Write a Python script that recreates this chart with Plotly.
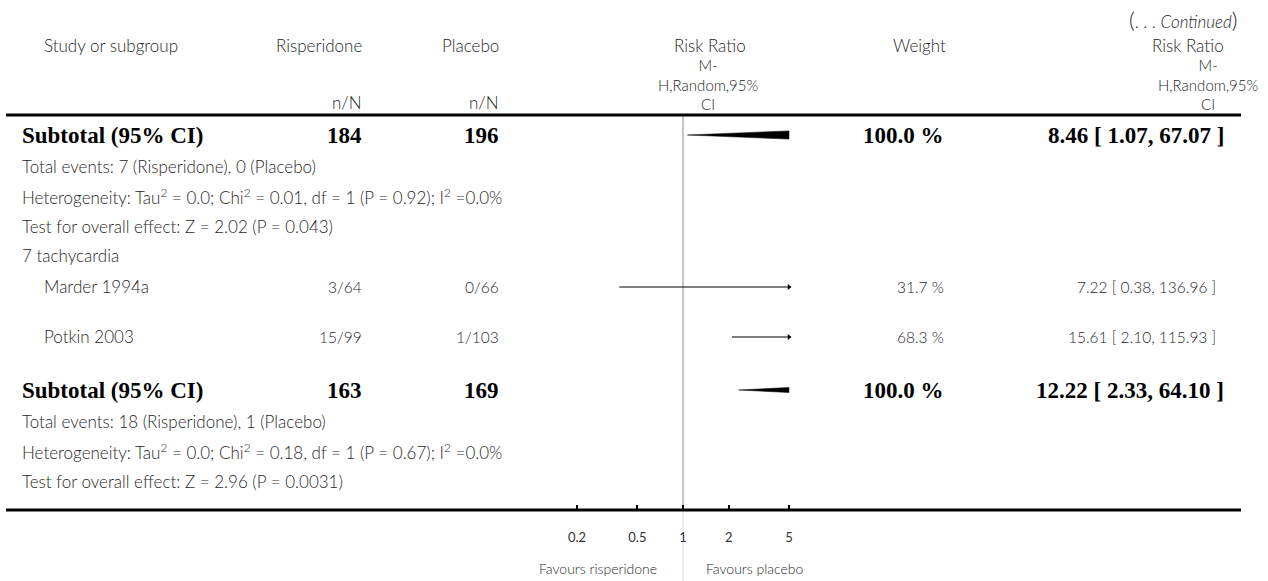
import math
import plotly.graph_objects as go

W, H = 1268, 581

# ---------------- data ----------------
study_names = ["Marder 1994a", "Potkin 2003"]
risp_events = [3, 15]
risp_total = [64, 99]
plac_events = [0, 1]
plac_total = [66, 103]
study_weight = [31.7, 68.3]
study_rr = [7.22, 15.61]
study_lo = [0.38, 2.10]
study_hi = [136.96, 115.93]

sub_risp_total = [184, 163]
sub_plac_total = [196, 169]
sub_weight = [100.0, 100.0]
sub_rr = [8.46, 12.22]
sub_lo = [1.07, 2.33]
sub_hi = [67.07, 64.10]

footer_prev = [
    "Total events: 7 (Risperidone), 0 (Placebo)",
    "Heterogeneity: Tau<sup>2</sup> = 0.0; Chi<sup>2</sup> = 0.01, df = 1 (P = 0.92); I<sup>2</sup> =0.0%",
    "Test for overall effect: Z = 2.02 (P = 0.043)",
]
group_label = "7 tachycardia"
footer_cur = [
    "Total events: 18 (Risperidone), 1 (Placebo)",
    "Heterogeneity: Tau<sup>2</sup> = 0.0; Chi<sup>2</sup> = 0.18, df = 1 (P = 0.67); I<sup>2</sup> =0.0%",
    "Test for overall effect: Z = 2.96 (P = 0.0031)",
]

tick_vals = [0.2, 0.5, 1, 2, 5]
tick_text = ["0.2", "0.5", "1", "2", "5"]
axis_min, axis_max = 0.2, 5
fav_left = "Favours risperidone"
fav_right = "Favours placebo"

# ---------------- layout constants (pixels) ----------------
LIGHT = "Lato, 'Open Sans', sans-serif"
SERIF = "'Liberation Serif', 'DejaVu Serif', serif"
GREY = "#1f1f1f"
FS = 17      # word text
NFS = 15.5   # numeric text
BFS = 23     # bold serif rows
LW = 300     # light weight

HEADER_LINE = 115
AXIS_LINE = 510
row_sub1, row_te1, row_het1, row_test1 = 135, 166, 196, 226
row_grp = 256
row_studies = [287, 337]
row_sub2, row_te2, row_het2, row_test2 = 390, 421, 451, 481

COL_NAME = 21
COL_STUDY = 43
COL_RISP = 363
COL_PLAC = 500
COL_W = 945
COL_RR = 1217
COL_RR_B = 1225

FOREST_X0, FOREST_X1 = 577, 789   # pixel span of 0.2 .. 5
PAD = 10                          # extra pixels so edge ticks are kept


def X(px):
    return px / W


def Y(py):
    return 1 - py / H


annotations = []


def txt(s, px, py, anchor="left", size=FS, family=LIGHT, color=GREY, weight=LW, align="left"):
    annotations.append(dict(
        text=s, x=X(px), y=Y(py), xref="paper", yref="paper",
        xanchor=anchor, yanchor="middle", showarrow=False, borderpad=0, align=align,
        font=dict(family=family, size=size, color=color, weight=weight),
    ))


def btxt(s, px, py, anchor="left"):
    txt(s, px, py, anchor, size=BFS, family=SERIF, color="black", weight=700)


# header
txt("<span style='font-size:22px'>(</span>. . . <i>Continued</i><span style='font-size:22px'>)</span>",
    1238, 19, "right", size=17)
txt("Study or subgroup", COL_STUDY, 45)
txt("Risperidone", COL_RISP, 45, "right")
txt("Placebo", COL_PLAC, 45, "right")
txt("n/N", COL_RISP, 103, "right")
txt("n/N", COL_PLAC, 103, "right")
txt("Risk Ratio", 710, 45, "center")
txt("M-<br>H,Random,95%<br>CI", 708, 84, "center", size=15, align="center")
txt("Weight", 947, 45, "right")
txt("Risk Ratio", 1225, 45, "right")
txt("M-<br>H,Random,95%<br>CI", 1208, 84, "center", size=15, align="center")


def fmt_ci(rr, lo, hi):
    return f"{rr:.2f} [ {lo:.2f}, {hi:.2f} ]"


# first subtotal block (continued from previous page)
btxt("Subtotal (95% CI)", COL_NAME, row_sub1)
btxt(str(sub_risp_total[0]), COL_RISP, row_sub1, "right")
btxt(str(sub_plac_total[0]), COL_PLAC, row_sub1, "right")
btxt(f"{sub_weight[0]:.1f} %", COL_W, row_sub1, "right")
btxt(fmt_ci(sub_rr[0], sub_lo[0], sub_hi[0]), COL_RR_B, row_sub1, "right")
for s, py in zip(footer_prev, [row_te1, row_het1, row_test1]):
    txt(s, COL_NAME, py)

txt(group_label, COL_NAME, row_grp)
for i, name in enumerate(study_names):
    py = row_studies[i]
    txt(name, COL_STUDY, py)
    txt(f"{risp_events[i]}/{risp_total[i]}", COL_RISP, py, "right", size=NFS)
    txt(f"{plac_events[i]}/{plac_total[i]}", COL_PLAC, py, "right", size=NFS)
    txt(f"{study_weight[i]:.1f} %", COL_W, py, "right", size=NFS)
    txt(fmt_ci(study_rr[i], study_lo[i], study_hi[i]), COL_RR, py, "right", size=NFS)

btxt("Subtotal (95% CI)", COL_NAME, row_sub2)
btxt(str(sub_risp_total[1]), COL_RISP, row_sub2, "right")
btxt(str(sub_plac_total[1]), COL_PLAC, row_sub2, "right")
btxt(f"{sub_weight[1]:.1f} %", COL_W, row_sub2, "right")
btxt(fmt_ci(sub_rr[1], sub_lo[1], sub_hi[1]), COL_RR_B, row_sub2, "right")
for s, py in zip(footer_cur, [row_te2, row_het2, row_test2]):
    txt(s, COL_NAME, py)

# favours labels placed relative to the line of no effect
for s, anchor, shift in [(fav_left, "right", -24), (fav_right, "left", 21)]:
    annotations.append(dict(text=s, x=0, xref="x", y=568, yref="y",
                            xanchor=anchor, yanchor="middle", xshift=shift, showarrow=False,
                            font=dict(family=LIGHT, size=14, color=GREY, weight=LW)))

# ---------------- forest traces ----------------
lmin, lmax = math.log10(axis_min), math.log10(axis_max)


def clip_poly(lx, ys):
    """Clip a polygon (log-x coordinates) to lmin <= x <= lmax."""
    pts = list(zip(lx, ys))
    for bound, keep in [(lmin, lambda x: x >= lmin - 1e-12), (lmax, lambda x: x <= lmax + 1e-12)]:
        out = []
        n = len(pts)
        for k in range(n):
            p, q = pts[k], pts[(k + 1) % n]
            pin, qin = keep(p[0]), keep(q[0])
            if pin:
                out.append(p)
            if pin != qin:
                t = (bound - p[0]) / (q[0] - p[0])
                out.append((bound, p[1] + t * (q[1] - p[1])))
        pts = out
    return pts


fig = go.Figure()

# line of no effect (darker inside the table, faint below the axis)
fig.add_trace(go.Scatter(x=[1, 1], y=[HEADER_LINE + 1, AXIS_LINE], mode="lines",
                         line=dict(color="#8c8c8c", width=1), hoverinfo="skip", showlegend=False))
fig.add_trace(go.Scatter(x=[1, 1], y=[AXIS_LINE, H], mode="lines",
                         line=dict(color="#dadada", width=1), hoverinfo="skip", showlegend=False))

DH = 5.5
for rr, lo, hi, py in zip(sub_rr, sub_lo, sub_hi, [row_sub1, row_sub2]):
    pts = clip_poly([math.log10(v) for v in (lo, rr, hi, rr)], [py, py - DH, py, py + DH])
    pts.append(pts[0])
    fig.add_trace(go.Scatter(
        x=[10 ** p[0] for p in pts], y=[p[1] for p in pts],
        mode="lines", fill="toself", fillcolor="black",
        line=dict(color="black", width=0.5), hoverinfo="skip", showlegend=False))

for rr, lo, hi, py in zip(study_rr, study_lo, study_hi, row_studies):
    fig.add_trace(go.Scatter(
        x=[max(lo, axis_min), min(hi, axis_max)], y=[py, py], mode="lines",
        line=dict(color="black", width=1.2), hoverinfo="skip", showlegend=False))
    if axis_min <= rr <= axis_max:
        fig.add_trace(go.Scatter(
            x=[rr], y=[py], mode="markers",
            marker=dict(symbol="square", size=6, color="black"),
            hoverinfo="skip", showlegend=False))
    if hi > axis_max:
        fig.add_trace(go.Scatter(
            x=[axis_max], y=[py], mode="markers", cliponaxis=False,
            marker=dict(symbol="triangle-right", size=5, color="black"),
            hoverinfo="skip", showlegend=False))
    if lo < axis_min:
        fig.add_trace(go.Scatter(
            x=[axis_min], y=[py], mode="markers", cliponaxis=False,
            marker=dict(symbol="triangle-left", size=5, color="black"),
            hoverinfo="skip", showlegend=False))

shapes = [
    dict(type="line", xref="paper", yref="paper", x0=X(6), x1=X(1241),
         y0=Y(HEADER_LINE), y1=Y(HEADER_LINE), line=dict(color="black", width=3)),
    dict(type="line", xref="paper", yref="paper", x0=X(6), x1=X(1241),
         y0=Y(AXIS_LINE), y1=Y(AXIS_LINE), line=dict(color="black", width=3)),
]

px_per_decade = (FOREST_X1 - FOREST_X0) / (lmax - lmin)
lpad = PAD / px_per_decade

fig.update_layout(
    width=W, height=H,
    margin=dict(l=0, r=0, t=0, b=0),
    paper_bgcolor="white", plot_bgcolor="rgba(0,0,0,0)",
    showlegend=False,
    xaxis=dict(
        type="log", range=[lmin - lpad, lmax + lpad],
        domain=[X(FOREST_X0 - PAD), X(FOREST_X1 + PAD)],
        anchor="free", position=Y(AXIS_LINE),
        tickmode="array", tickvals=tick_vals, ticktext=tick_text,
        ticks="inside", ticklen=5, tickwidth=2, tickcolor="black",
        ticklabelstandoff=18,
        tickfont=dict(family=LIGHT, size=13, color="#333333"),
        showgrid=False, zeroline=False, showline=False, fixedrange=True,
    ),
    yaxis=dict(
        range=[H, 0], domain=[0, 1],
        visible=False, showgrid=False, zeroline=False, fixedrange=True,
    ),
    annotations=annotations,
    shapes=shapes,
)

fig.write_html("out.html", config={"displayModeBar": False},
               post_script="document.body.style.margin='0';")
